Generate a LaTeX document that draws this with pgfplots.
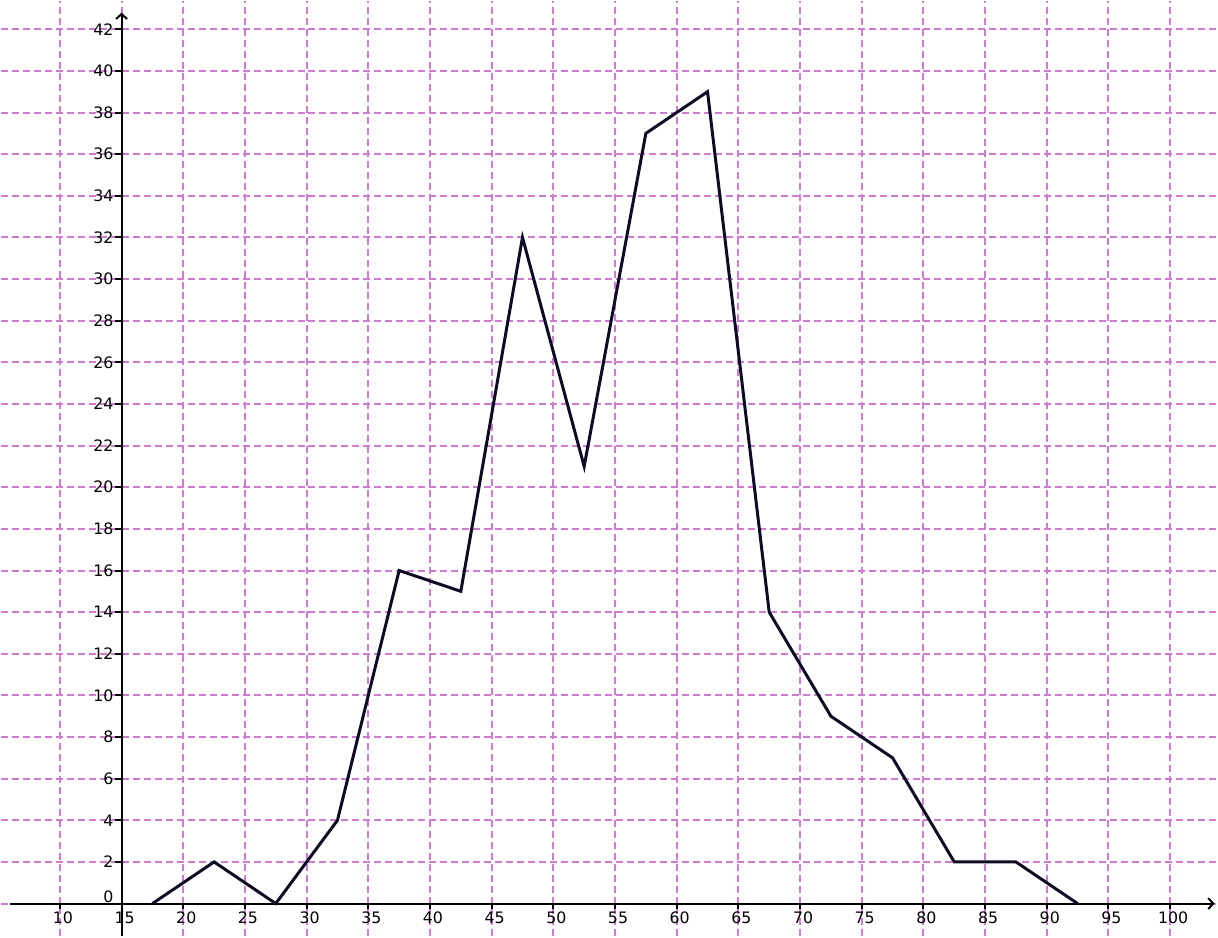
\documentclass[border=0pt]{standalone}
\usepackage{fontspec}
\setmainfont{DejaVu Sans}
\usepackage{pgfplots}
\pgfplotsset{compat=1.18}
\usetikzlibrary{arrows.meta}
\definecolor{gridmag}{RGB}{206,124,210}
\definecolor{linecol}{RGB}{12,12,36}
\begin{document}
\begin{tikzpicture}
\begin{axis}[
  scale only axis, width=609pt, height=468.5pt,
  xmin=5.225, xmax=103.8, ymin=-1.58, ymax=43.36,
  axis line style={draw=none},
  xtick={10,15,...,100}, ytick={2,4,...,42},
  extra y ticks={0},
  extra y tick style={yticklabel style={yshift=3.5pt}},
  grid=major,
  major grid style={gridmag, line width=1pt, dash pattern=on 3.5pt off 2pt},
  major tick length=0pt,
  tick label style={font=\fontsize{7.9}{9}\selectfont, inner sep=0pt},
  xticklabel style={anchor=center, yshift=9.5pt, xshift=1.5pt},
  yticklabel style={anchor=east, xshift=56.5pt},
  /pgf/number format/assume math mode=true,
  clip=false,
]
% axis lines through (15,0)
\draw[line width=1pt, -{Straight Barb[length=2.5pt,width=5.5pt]}] (axis cs:5.95,0) -- (axis cs:103.6,0);
\draw[line width=1pt, -{Straight Barb[length=2.5pt,width=5.5pt]}] (axis cs:15,-1.58) -- (axis cs:15,42.8);
\pgfplotsinvokeforeach{2,4,...,42}{\draw[line width=1pt] (axis cs:15,#1) -- ++(-3.5pt,0pt);}
\pgfplotsinvokeforeach{10,20,25,...,100}{\draw[line width=1pt] (axis cs:#1,0) -- ++(0pt,-2.5pt);}
\addplot[linecol, line width=1.5pt] coordinates {
  (17.5,0) (22.5,2) (27.5,0) (32.5,4) (37.5,16) (42.5,15)
  (47.5,32) (52.5,21) (57.5,37) (62.5,39) (67.5,14) (72.5,9)
  (77.5,7) (82.5,2) (87.5,2) (92.5,0)
};
\end{axis}
\end{tikzpicture}
\end{document}
